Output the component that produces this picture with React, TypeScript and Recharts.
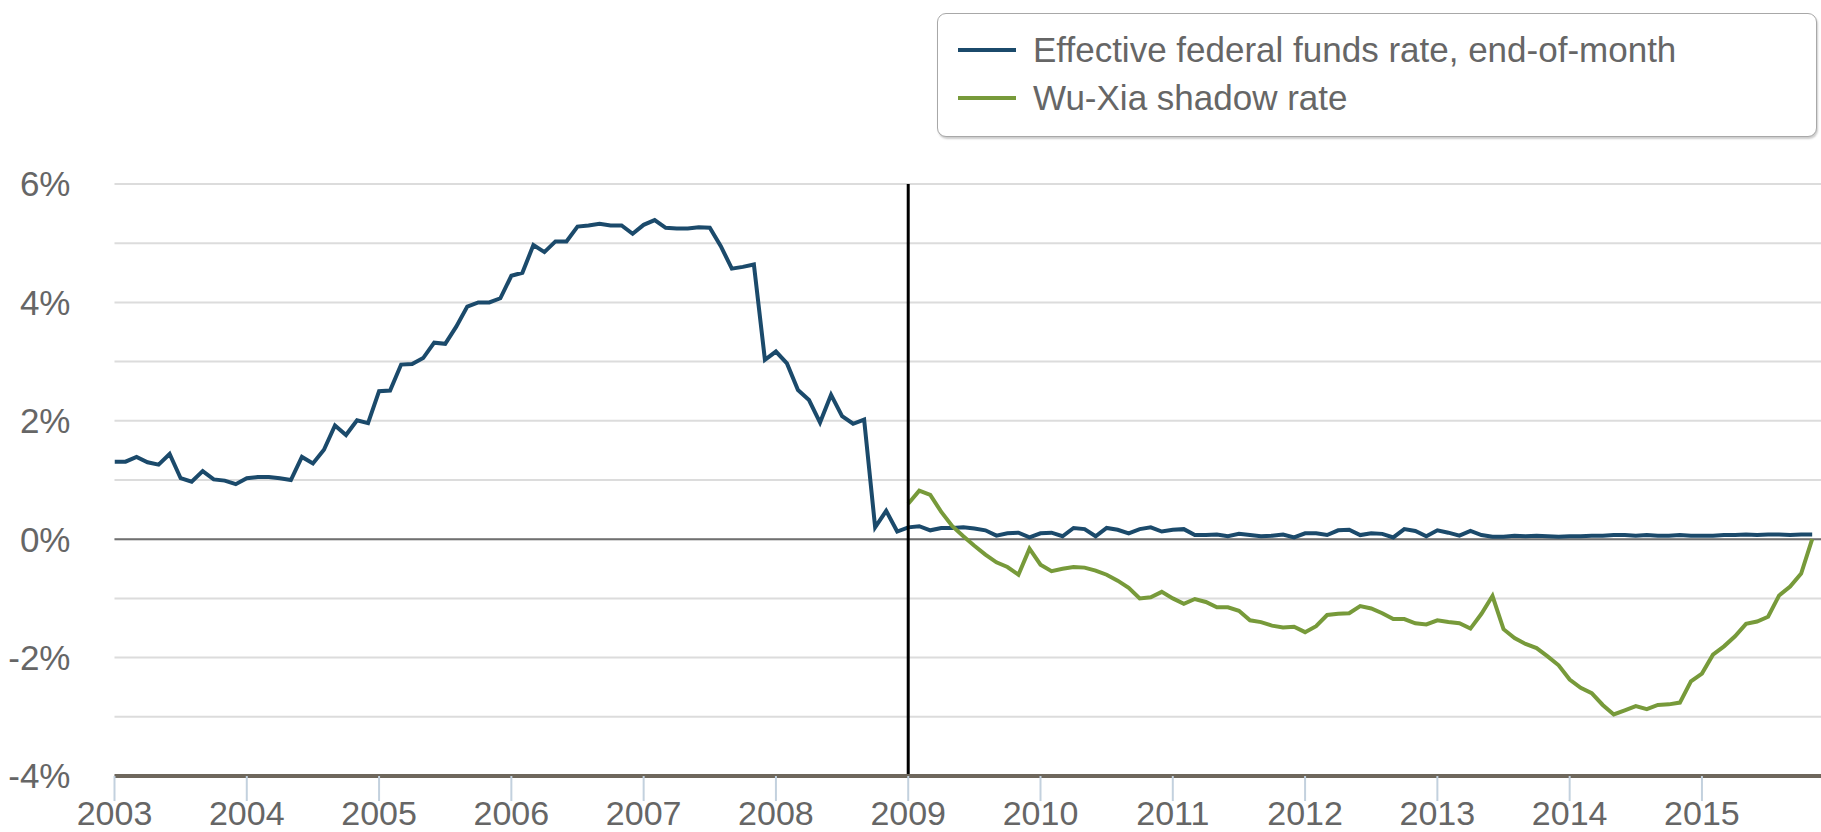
import { LineChart, Line, XAxis, YAxis, CartesianGrid, ReferenceLine } from "recharts";

// end-of-month effective fed funds rate, Jan 2003 .. Nov 2015
const effr = [
  1.31, 1.31, 1.39, 1.3, 1.26, 1.44, 1.03, 0.97, 1.15, 1.01, 0.99, 0.93,
  1.03, 1.05, 1.05, 1.03, 1.0, 1.39, 1.28, 1.51, 1.92, 1.76, 2.01, 1.96,
  2.5, 2.51, 2.95, 2.96, 3.06, 3.32, 3.3, 3.59, 3.93, 4.0, 4.0, 4.07,
  4.45, 4.5, 4.97, 4.85, 5.03, 5.03, 5.28, 5.3, 5.33, 5.3, 5.3, 5.16,
  5.31, 5.39, 5.26, 5.25, 5.25, 5.27, 5.26, 4.95, 4.57, 4.6, 4.64, 3.03,
  3.17, 2.97, 2.52, 2.35, 1.97, 2.44, 2.08, 1.95, 2.02, 0.2, 0.48, 0.13,
  0.2, 0.22, 0.15, 0.19, 0.19, 0.2, 0.18, 0.15, 0.06, 0.1, 0.11, 0.03,
  0.1, 0.11, 0.05, 0.19, 0.17, 0.05, 0.19, 0.16, 0.1, 0.17, 0.2, 0.13,
  0.16, 0.17, 0.07, 0.07, 0.08, 0.05, 0.09, 0.07, 0.05, 0.06, 0.08, 0.03,
  0.1, 0.1, 0.07, 0.15, 0.16, 0.07, 0.1, 0.09, 0.03, 0.17, 0.14, 0.05,
  0.15, 0.11, 0.06, 0.14, 0.07, 0.04, 0.04, 0.06, 0.05, 0.06, 0.05, 0.04,
  0.05, 0.05, 0.06, 0.06, 0.07, 0.07, 0.06, 0.07, 0.06, 0.06, 0.07, 0.06,
  0.06, 0.06, 0.07, 0.07, 0.08, 0.07, 0.08, 0.08, 0.07, 0.08, 0.08,
];

// Wu-Xia shadow rate, Jan 2009 .. Nov 2015
const wuXia = [
  0.6, 0.82, 0.75, 0.46, 0.22, 0.05, -0.11, -0.26, -0.39, -0.47, -0.6, -0.16,
  -0.43, -0.54, -0.5, -0.47, -0.48, -0.53, -0.6, -0.7, -0.82, -1.0, -0.98, -0.89,
  -1.0, -1.09, -1.01, -1.06, -1.15, -1.15, -1.21, -1.37, -1.4, -1.46, -1.49, -1.48,
  -1.57, -1.47, -1.28, -1.26, -1.25, -1.13, -1.17, -1.25, -1.35, -1.35, -1.42, -1.44,
  -1.37, -1.4, -1.42, -1.51, -1.26, -0.96, -1.52, -1.67, -1.77, -1.84, -1.98, -2.13,
  -2.37, -2.51, -2.6, -2.8, -2.96, -2.89, -2.82, -2.87, -2.8, -2.79, -2.76, -2.4,
  -2.27, -1.95, -1.81, -1.64, -1.43, -1.39, -1.31, -0.95, -0.8, -0.58, 0.0,
];

const startYear = 2003;
const wuXiaStart = 72; // Jan 2009
const yearTicks = [2003, 2004, 2005, 2006, 2007, 2008, 2009, 2010, 2011, 2012, 2013, 2014, 2015];
const pctTicks = [-4, -3, -2, -1, 0, 1, 2, 3, 4, 5, 6];

const data = effr.map((v, i) => ({
  t: startYear + i / 12,
  effr: v,
  wuXia: i >= wuXiaStart ? wuXia[i - wuXiaStart] : null,
}));

const FONT = "'Liberation Sans', Arial, sans-serif";
const BLUE = "#1b4a6b";
const GREEN = "#779a3a";

function LegendBox() {
  const row = (color: string, label: string, top: number) => (
    <div style={{ position: "absolute", left: 20, top, display: "flex", alignItems: "center" }}>
      <div style={{ width: 58, height: 4, background: color, marginRight: 17 }} />
      <span style={{ fontSize: 35, color: "#666", fontFamily: FONT, lineHeight: "40px" }}>{label}</span>
    </div>
  );
  return (
    <div
      style={{
        position: "absolute",
        left: 937,
        top: 13,
        width: 878,
        height: 122,
        border: "1.5px solid #a8a8a8",
        borderRadius: 9,
        boxShadow: "1px 2px 2px rgba(0,0,0,0.2)",
        background: "#fff",
      }}
    >
      {row(BLUE, "Effective federal funds rate, end-of-month", 16)}
      {row(GREEN, "Wu-Xia shadow rate", 64)}
    </div>
  );
}

export default function App() {
  return (
    <div style={{ position: "absolute", left: 0, top: 0, width: 1821, height: 832, background: "#fff" }}>
      <LineChart width={1821} height={832} data={data} margin={{ top: 184, right: 0, bottom: 0, left: 0 }}>
        <CartesianGrid vertical={false} stroke="#dcdcdc" strokeWidth={2} />
        <XAxis
          dataKey="t"
          type="number"
          domain={[2003, 2015.9]}
          ticks={yearTicks}
          allowDataOverflow
          height={56}
          tickSize={25}
          tickMargin={0}
          axisLine={{ stroke: "#6e675c", strokeWidth: 4 }}
          tickLine={{ stroke: "#c3d1de", strokeWidth: 2 }}
          tick={{ fill: "#666", fontSize: 34, fontFamily: FONT }}
        />
        <YAxis
          type="number"
          domain={[-4, 6]}
          ticks={pctTicks}
          width={114.5}
          axisLine={false}
          tickLine={false}
          tickMargin={38}
          tick={{ fill: "#666", fontSize: 35, fontFamily: FONT }}
          tickFormatter={(v: number) => (v % 2 === 0 ? `${v}%` : "")}
        />
        <ReferenceLine y={0} stroke="#707070" strokeWidth={2} />
        <Line type="linear" dataKey="effr" stroke={BLUE} strokeWidth={4} dot={false} isAnimationActive={false} />
        <Line type="linear" dataKey="wuXia" stroke={GREEN} strokeWidth={4} dot={false} isAnimationActive={false} />
        <ReferenceLine x={2009} stroke="#000" strokeWidth={3} />
      </LineChart>
      <LegendBox />
    </div>
  );
}
